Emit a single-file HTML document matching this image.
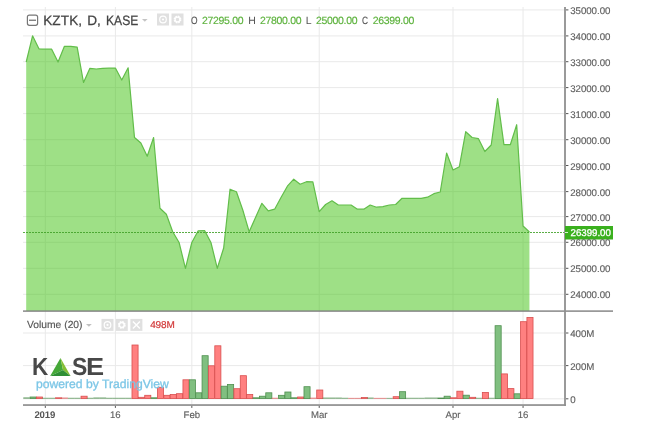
<!DOCTYPE html>
<html><head><meta charset="utf-8"><title>KZTK, D, KASE</title>
<style>
html,body{margin:0;padding:0;background:#fff;}
body{width:660px;height:426px;position:relative;overflow:hidden;font-family:"Liberation Sans",sans-serif;}
#c{position:absolute;left:0;top:0;width:660px;height:426px;overflow:hidden;}
#c span{position:absolute;white-space:nowrap;line-height:1.2;display:block;text-rendering:geometricPrecision;}
</style></head><body><div id="c">
<svg width="660" height="426" viewBox="0 0 660 426" style="position:absolute;left:0;top:0">
<rect x="23" y="9.40" width="542" height="1" fill="#e9e9e9"/>
<rect x="23" y="35.40" width="542" height="1" fill="#e9e9e9"/>
<rect x="23" y="61.20" width="542" height="1" fill="#e9e9e9"/>
<rect x="23" y="87.10" width="542" height="1" fill="#e9e9e9"/>
<rect x="23" y="113.10" width="542" height="1" fill="#e9e9e9"/>
<rect x="23" y="139.20" width="542" height="1" fill="#e9e9e9"/>
<rect x="23" y="165.00" width="542" height="1" fill="#e9e9e9"/>
<rect x="23" y="191.10" width="542" height="1" fill="#e9e9e9"/>
<rect x="23" y="216.10" width="542" height="1" fill="#e9e9e9"/>
<rect x="23" y="241.80" width="542" height="1" fill="#e9e9e9"/>
<rect x="23" y="267.80" width="542" height="1" fill="#e9e9e9"/>
<rect x="23" y="293.80" width="542" height="1" fill="#e9e9e9"/>
<rect x="23" y="332.50" width="542" height="1" fill="#e9e9e9"/>
<rect x="23" y="365.10" width="542" height="1" fill="#e9e9e9"/>
<rect x="23" y="398.30" width="542" height="1" fill="#e9e9e9"/>
<rect x="44.81" y="7" width="1" height="397" fill="#e9e9e9"/>
<rect x="114.88" y="7" width="1" height="397" fill="#e9e9e9"/>
<rect x="191.32" y="7" width="1" height="397" fill="#e9e9e9"/>
<rect x="318.72" y="7" width="1" height="397" fill="#e9e9e9"/>
<rect x="452.49" y="7" width="1" height="397" fill="#e9e9e9"/>
<rect x="522.56" y="7" width="1" height="397" fill="#e9e9e9"/>
<polygon points="26.20,311 26.20,62.00 32.57,35.80 38.94,48.80 45.31,49.20 51.68,49.20 58.05,62.00 64.42,46.30 70.79,46.30 77.16,47.20 83.53,82.50 89.90,68.30 96.27,69.00 102.64,68.30 109.01,68.20 115.38,68.00 121.75,80.00 128.12,67.80 134.49,137.50 140.86,143.00 147.23,156.20 153.60,137.50 159.97,208.30 166.34,214.20 172.71,231.70 179.08,242.50 185.45,268.30 191.82,242.50 198.19,230.80 204.56,230.50 210.93,242.50 217.30,268.30 223.67,248.00 230.04,189.20 236.41,191.70 242.78,210.00 249.15,231.70 255.52,217.50 261.89,203.30 268.26,210.80 274.63,209.20 281.00,197.50 287.37,186.20 293.74,179.20 300.11,184.20 306.48,181.70 312.85,181.90 319.22,211.70 325.59,204.50 331.96,200.80 338.33,205.00 344.70,205.00 351.07,205.00 357.44,209.20 363.81,209.20 370.18,205.00 376.55,207.20 382.92,206.70 389.29,205.00 395.66,204.50 402.03,198.30 408.40,198.30 414.77,198.30 421.14,198.30 427.51,197.20 433.88,193.70 440.25,192.00 446.62,153.00 452.99,170.00 459.36,166.70 465.73,131.70 472.10,137.50 478.47,138.70 484.84,151.50 491.21,145.00 497.58,98.70 503.95,144.70 510.32,144.70 516.69,124.70 523.06,226.00 529.43,232.00 529.43,311" fill="rgba(61,193,13,0.5)"/>
<polyline points="26.20,62.00 32.57,35.80 38.94,48.80 45.31,49.20 51.68,49.20 58.05,62.00 64.42,46.30 70.79,46.30 77.16,47.20 83.53,82.50 89.90,68.30 96.27,69.00 102.64,68.30 109.01,68.20 115.38,68.00 121.75,80.00 128.12,67.80 134.49,137.50 140.86,143.00 147.23,156.20 153.60,137.50 159.97,208.30 166.34,214.20 172.71,231.70 179.08,242.50 185.45,268.30 191.82,242.50 198.19,230.80 204.56,230.50 210.93,242.50 217.30,268.30 223.67,248.00 230.04,189.20 236.41,191.70 242.78,210.00 249.15,231.70 255.52,217.50 261.89,203.30 268.26,210.80 274.63,209.20 281.00,197.50 287.37,186.20 293.74,179.20 300.11,184.20 306.48,181.70 312.85,181.90 319.22,211.70 325.59,204.50 331.96,200.80 338.33,205.00 344.70,205.00 351.07,205.00 357.44,209.20 363.81,209.20 370.18,205.00 376.55,207.20 382.92,206.70 389.29,205.00 395.66,204.50 402.03,198.30 408.40,198.30 414.77,198.30 421.14,198.30 427.51,197.20 433.88,193.70 440.25,192.00 446.62,153.00 452.99,170.00 459.36,166.70 465.73,131.70 472.10,137.50 478.47,138.70 484.84,151.50 491.21,145.00 497.58,98.70 503.95,144.70 510.32,144.70 516.69,124.70 523.06,226.00 529.43,232.00" fill="none" stroke="#62bd4a" stroke-width="1.2" stroke-linejoin="round"/>
<line x1="23" y1="232.5" x2="565" y2="232.5" stroke="#3fa026" stroke-width="1" stroke-dasharray="2 1" opacity="0.85"/>
<rect x="23.30" y="397.40" width="6.4" height="1.30" fill="#4f8f4f" opacity="0.8"/>
<rect x="30.07" y="397.00" width="6.1" height="1.60" fill="#80bf80" stroke="#4f8f4f" stroke-width="0.8"/>
<rect x="36.44" y="397.00" width="6.1" height="1.60" fill="#ff8080" stroke="#d94f4f" stroke-width="0.8"/>
<rect x="42.41" y="397.80" width="6.4" height="0.90" fill="#4f8f4f" opacity="0.8"/>
<rect x="48.78" y="397.80" width="6.4" height="0.90" fill="#4f8f4f" opacity="0.8"/>
<rect x="55.55" y="397.80" width="6.1" height="0.80" fill="#ff8080" stroke="#d94f4f" stroke-width="0.8"/>
<rect x="61.52" y="397.60" width="6.4" height="1.10" fill="#d94f4f" opacity="0.8"/>
<rect x="67.89" y="397.80" width="6.4" height="0.90" fill="#4f8f4f" opacity="0.8"/>
<rect x="74.26" y="397.80" width="6.4" height="0.90" fill="#4f8f4f" opacity="0.8"/>
<rect x="81.03" y="396.20" width="6.1" height="2.40" fill="#ff8080" stroke="#d94f4f" stroke-width="0.8"/>
<rect x="87.00" y="397.80" width="6.4" height="0.90" fill="#4f8f4f" opacity="0.8"/>
<rect x="93.37" y="397.50" width="6.4" height="1.20" fill="#4f8f4f" opacity="0.8"/>
<rect x="99.74" y="397.50" width="6.4" height="1.20" fill="#4f8f4f" opacity="0.8"/>
<rect x="106.11" y="397.80" width="6.4" height="0.90" fill="#4f8f4f" opacity="0.8"/>
<rect x="112.48" y="397.80" width="6.4" height="0.90" fill="#4f8f4f" opacity="0.8"/>
<rect x="118.85" y="397.80" width="6.4" height="0.90" fill="#4f8f4f" opacity="0.8"/>
<rect x="125.22" y="397.80" width="6.4" height="0.90" fill="#4f8f4f" opacity="0.8"/>
<rect x="131.99" y="345.00" width="6.1" height="53.60" fill="#ff8080" stroke="#d94f4f" stroke-width="0.8"/>
<rect x="138.36" y="397.30" width="6.1" height="1.30" fill="#ff8080" stroke="#d94f4f" stroke-width="0.8"/>
<rect x="144.73" y="395.30" width="6.1" height="3.30" fill="#ff8080" stroke="#d94f4f" stroke-width="0.8"/>
<rect x="151.10" y="397.80" width="6.1" height="0.80" fill="#80bf80" stroke="#4f8f4f" stroke-width="0.8"/>
<rect x="157.47" y="387.30" width="6.1" height="11.30" fill="#ff8080" stroke="#d94f4f" stroke-width="0.8"/>
<rect x="163.84" y="395.30" width="6.1" height="3.30" fill="#ff8080" stroke="#d94f4f" stroke-width="0.8"/>
<rect x="170.21" y="394.50" width="6.1" height="4.10" fill="#ff8080" stroke="#d94f4f" stroke-width="0.8"/>
<rect x="176.58" y="393.70" width="6.1" height="4.90" fill="#ff8080" stroke="#d94f4f" stroke-width="0.8"/>
<rect x="182.95" y="379.80" width="6.1" height="18.80" fill="#ff8080" stroke="#d94f4f" stroke-width="0.8"/>
<rect x="189.32" y="379.80" width="6.1" height="18.80" fill="#80bf80" stroke="#4f8f4f" stroke-width="0.8"/>
<rect x="195.69" y="392.80" width="6.1" height="5.80" fill="#80bf80" stroke="#4f8f4f" stroke-width="0.8"/>
<rect x="202.06" y="355.70" width="6.1" height="42.90" fill="#80bf80" stroke="#4f8f4f" stroke-width="0.8"/>
<rect x="208.43" y="365.80" width="6.1" height="32.80" fill="#ff8080" stroke="#d94f4f" stroke-width="0.8"/>
<rect x="214.80" y="345.80" width="6.1" height="52.80" fill="#ff8080" stroke="#d94f4f" stroke-width="0.8"/>
<rect x="221.17" y="386.20" width="6.1" height="12.40" fill="#80bf80" stroke="#4f8f4f" stroke-width="0.8"/>
<rect x="227.54" y="384.50" width="6.1" height="14.10" fill="#80bf80" stroke="#4f8f4f" stroke-width="0.8"/>
<rect x="233.91" y="388.70" width="6.1" height="9.90" fill="#ff8080" stroke="#d94f4f" stroke-width="0.8"/>
<rect x="240.28" y="375.70" width="6.1" height="22.90" fill="#ff8080" stroke="#d94f4f" stroke-width="0.8"/>
<rect x="246.65" y="394.50" width="6.1" height="4.10" fill="#ff8080" stroke="#d94f4f" stroke-width="0.8"/>
<rect x="253.02" y="397.80" width="6.1" height="0.80" fill="#80bf80" stroke="#4f8f4f" stroke-width="0.8"/>
<rect x="259.39" y="396.20" width="6.1" height="2.40" fill="#80bf80" stroke="#4f8f4f" stroke-width="0.8"/>
<rect x="265.76" y="392.80" width="6.1" height="5.80" fill="#80bf80" stroke="#4f8f4f" stroke-width="0.8"/>
<rect x="271.73" y="397.80" width="6.4" height="0.90" fill="#d94f4f" opacity="0.8"/>
<rect x="278.50" y="395.30" width="6.1" height="3.30" fill="#80bf80" stroke="#4f8f4f" stroke-width="0.8"/>
<rect x="284.87" y="392.00" width="6.1" height="6.60" fill="#80bf80" stroke="#4f8f4f" stroke-width="0.8"/>
<rect x="291.24" y="397.80" width="6.1" height="0.80" fill="#80bf80" stroke="#4f8f4f" stroke-width="0.8"/>
<rect x="297.61" y="397.00" width="6.1" height="1.60" fill="#ff8080" stroke="#d94f4f" stroke-width="0.8"/>
<rect x="303.98" y="386.70" width="6.1" height="11.90" fill="#80bf80" stroke="#4f8f4f" stroke-width="0.8"/>
<rect x="309.95" y="397.70" width="6.4" height="1.00" fill="#d94f4f" opacity="0.8"/>
<rect x="316.72" y="390.00" width="6.1" height="8.60" fill="#ff8080" stroke="#d94f4f" stroke-width="0.8"/>
<rect x="322.69" y="397.60" width="6.4" height="1.10" fill="#4f8f4f" opacity="0.8"/>
<rect x="329.06" y="397.60" width="6.4" height="1.10" fill="#4f8f4f" opacity="0.8"/>
<rect x="335.43" y="397.60" width="6.4" height="1.10" fill="#4f8f4f" opacity="0.8"/>
<rect x="341.80" y="397.80" width="6.4" height="0.90" fill="#4f8f4f" opacity="0.8"/>
<rect x="348.17" y="397.90" width="6.4" height="0.80" fill="#d94f4f" opacity="0.8"/>
<rect x="354.54" y="397.90" width="6.4" height="0.80" fill="#d94f4f" opacity="0.8"/>
<rect x="361.31" y="397.50" width="6.1" height="1.10" fill="#ff8080" stroke="#d94f4f" stroke-width="0.8"/>
<rect x="367.28" y="397.60" width="6.4" height="1.10" fill="#4f8f4f" opacity="0.8"/>
<rect x="373.65" y="397.90" width="6.4" height="0.80" fill="#d94f4f" opacity="0.8"/>
<rect x="380.02" y="397.90" width="6.4" height="0.80" fill="#d94f4f" opacity="0.8"/>
<rect x="386.39" y="397.90" width="6.4" height="0.80" fill="#4f8f4f" opacity="0.8"/>
<rect x="393.16" y="396.70" width="6.1" height="1.90" fill="#ff8080" stroke="#d94f4f" stroke-width="0.8"/>
<rect x="399.53" y="391.70" width="6.1" height="6.90" fill="#80bf80" stroke="#4f8f4f" stroke-width="0.8"/>
<rect x="405.50" y="397.80" width="6.4" height="0.90" fill="#4f8f4f" opacity="0.8"/>
<rect x="411.87" y="397.80" width="6.4" height="0.90" fill="#4f8f4f" opacity="0.8"/>
<rect x="418.24" y="397.80" width="6.4" height="0.90" fill="#4f8f4f" opacity="0.8"/>
<rect x="424.61" y="397.60" width="6.4" height="1.10" fill="#4f8f4f" opacity="0.8"/>
<rect x="430.98" y="397.60" width="6.4" height="1.10" fill="#4f8f4f" opacity="0.8"/>
<rect x="437.75" y="398.00" width="6.1" height="0.60" fill="#80bf80" stroke="#4f8f4f" stroke-width="0.8"/>
<rect x="444.12" y="396.20" width="6.1" height="2.40" fill="#80bf80" stroke="#4f8f4f" stroke-width="0.8"/>
<rect x="450.49" y="397.80" width="6.1" height="0.80" fill="#ff8080" stroke="#d94f4f" stroke-width="0.8"/>
<rect x="456.86" y="391.20" width="6.1" height="7.40" fill="#ff8080" stroke="#d94f4f" stroke-width="0.8"/>
<rect x="463.23" y="395.20" width="6.1" height="3.40" fill="#80bf80" stroke="#4f8f4f" stroke-width="0.8"/>
<rect x="469.60" y="397.30" width="6.1" height="1.30" fill="#ff8080" stroke="#d94f4f" stroke-width="0.8"/>
<rect x="475.57" y="397.80" width="6.4" height="0.90" fill="#4f8f4f" opacity="0.8"/>
<rect x="482.34" y="392.40" width="6.1" height="6.20" fill="#ff8080" stroke="#d94f4f" stroke-width="0.8"/>
<rect x="488.31" y="397.80" width="6.4" height="0.90" fill="#4f8f4f" opacity="0.8"/>
<rect x="495.08" y="325.70" width="6.1" height="72.90" fill="#80bf80" stroke="#4f8f4f" stroke-width="0.8"/>
<rect x="501.45" y="373.90" width="6.1" height="24.70" fill="#ff8080" stroke="#d94f4f" stroke-width="0.8"/>
<rect x="507.82" y="388.60" width="6.1" height="10.00" fill="#ff8080" stroke="#d94f4f" stroke-width="0.8"/>
<rect x="514.19" y="393.80" width="6.1" height="4.80" fill="#80bf80" stroke="#4f8f4f" stroke-width="0.8"/>
<rect x="520.56" y="321.70" width="6.1" height="76.90" fill="#ff8080" stroke="#d94f4f" stroke-width="0.8"/>
<rect x="526.93" y="317.40" width="6.1" height="81.20" fill="#ff8080" stroke="#d94f4f" stroke-width="0.8"/>
<rect x="23" y="310.4" width="590" height="1.4" fill="#808080"/>
<rect x="564.1" y="7" width="1.8" height="398.9" fill="#909090"/>
<rect x="23" y="404.2" width="543" height="1.7" fill="#909090"/>
<rect x="566" y="9.40" width="2.4" height="1" fill="#555"/>
<rect x="566" y="35.40" width="2.4" height="1" fill="#555"/>
<rect x="566" y="61.20" width="2.4" height="1" fill="#555"/>
<rect x="566" y="87.10" width="2.4" height="1" fill="#555"/>
<rect x="566" y="113.10" width="2.4" height="1" fill="#555"/>
<rect x="566" y="139.20" width="2.4" height="1" fill="#555"/>
<rect x="566" y="165.00" width="2.4" height="1" fill="#555"/>
<rect x="566" y="191.10" width="2.4" height="1" fill="#555"/>
<rect x="566" y="216.10" width="2.4" height="1" fill="#555"/>
<rect x="566" y="241.80" width="2.4" height="1" fill="#555"/>
<rect x="566" y="267.80" width="2.4" height="1" fill="#555"/>
<rect x="566" y="293.80" width="2.4" height="1" fill="#555"/>
<rect x="566" y="332.50" width="2.4" height="1" fill="#555"/>
<rect x="566" y="365.10" width="2.4" height="1" fill="#555"/>
<rect x="566" y="398.30" width="2.4" height="1" fill="#555"/>
<rect x="44.81" y="405.9" width="1" height="2" fill="#555"/>
<rect x="114.88" y="405.9" width="1" height="2" fill="#555"/>
<rect x="191.32" y="405.9" width="1" height="2" fill="#555"/>
<rect x="318.72" y="405.9" width="1" height="2" fill="#555"/>
<rect x="452.49" y="405.9" width="1" height="2" fill="#555"/>
<rect x="522.56" y="405.9" width="1" height="2" fill="#555"/>
<rect x="565" y="226" width="48" height="13.5" fill="#3ab01e"/>
<rect x="565" y="232" width="3" height="1" fill="#d8f5d0"/>
<rect x="157" y="13.5" width="12" height="12" fill="#e0e0e0"/><circle cx="163" cy="19.5" r="3.3" fill="none" stroke="#fff" stroke-width="1.2"/><circle cx="163" cy="19.5" r="1.1" fill="#fff"/>
<rect x="171.5" y="13.5" width="12" height="12" fill="#e0e0e0"/><circle cx="177.5" cy="19.5" r="3" fill="none" stroke="#fff" stroke-width="1.8" stroke-dasharray="1.6 0.75"/><circle cx="177.5" cy="19.5" r="2.4" fill="none" stroke="#fff" stroke-width="1.3"/>
<rect x="101.5" y="318.9" width="12" height="12" fill="#e0e0e0"/><circle cx="107.5" cy="324.9" r="3.3" fill="none" stroke="#fff" stroke-width="1.2"/><circle cx="107.5" cy="324.9" r="1.1" fill="#fff"/>
<rect x="115.8" y="318.9" width="12" height="12" fill="#e0e0e0"/><circle cx="121.8" cy="324.9" r="3" fill="none" stroke="#fff" stroke-width="1.8" stroke-dasharray="1.6 0.75"/><circle cx="121.8" cy="324.9" r="2.4" fill="none" stroke="#fff" stroke-width="1.3"/>
<rect x="130.4" y="318.9" width="12" height="12" fill="#e0e0e0"/><path d="M132.9 321.4L139.9 328.4M139.9 321.4L132.9 328.4" stroke="#fff" stroke-width="1.4" fill="none"/>
<polygon points="142,19 147.6,19 144.8,21.8" fill="#c4c4c4"/>
<polygon points="86.0,323.9 91.8,323.9 88.9,326.8" fill="#c0c0c0"/>
<rect x="27.4" y="15.1" width="10.2" height="10.2" rx="2" fill="#fff" stroke="#777" stroke-width="1.2"/><rect x="29" y="19.6" width="7" height="1.3" fill="#777"/>
<polygon points="60.5,358.1 50.2,376.1 63,370" fill="#45a838"/><polygon points="60.5,358.1 63,370 70.6,376.1" fill="#86bf35"/><polygon points="50.2,376.1 63,370 70.6,376.1" fill="#2f8f35"/>
</svg>
<span style="left:570.2px;top:6.0px;font-size:9.7px;color:#606060;letter-spacing:-0.03px;-webkit-text-stroke:0.15px #606060;">35000.00</span>
<span style="left:570.2px;top:32.0px;font-size:9.7px;color:#606060;letter-spacing:-0.03px;-webkit-text-stroke:0.15px #606060;">34000.00</span>
<span style="left:570.2px;top:57.800000000000004px;font-size:9.7px;color:#606060;letter-spacing:-0.03px;-webkit-text-stroke:0.15px #606060;">33000.00</span>
<span style="left:570.2px;top:83.69999999999999px;font-size:9.7px;color:#606060;letter-spacing:-0.03px;-webkit-text-stroke:0.15px #606060;">32000.00</span>
<span style="left:570.2px;top:109.69999999999999px;font-size:9.7px;color:#606060;letter-spacing:-0.03px;-webkit-text-stroke:0.15px #606060;">31000.00</span>
<span style="left:570.2px;top:135.79999999999998px;font-size:9.7px;color:#606060;letter-spacing:-0.03px;-webkit-text-stroke:0.15px #606060;">30000.00</span>
<span style="left:570.2px;top:161.6px;font-size:9.7px;color:#606060;letter-spacing:-0.03px;-webkit-text-stroke:0.15px #606060;">29000.00</span>
<span style="left:570.2px;top:187.7px;font-size:9.7px;color:#606060;letter-spacing:-0.03px;-webkit-text-stroke:0.15px #606060;">28000.00</span>
<span style="left:570.2px;top:212.7px;font-size:9.7px;color:#606060;letter-spacing:-0.03px;-webkit-text-stroke:0.15px #606060;">27000.00</span>
<span style="left:570.2px;top:238.4px;font-size:9.7px;color:#606060;letter-spacing:-0.03px;-webkit-text-stroke:0.15px #606060;">26000.00</span>
<span style="left:570.2px;top:264.40000000000003px;font-size:9.7px;color:#606060;letter-spacing:-0.03px;-webkit-text-stroke:0.15px #606060;">25000.00</span>
<span style="left:570.2px;top:290.40000000000003px;font-size:9.7px;color:#606060;letter-spacing:-0.03px;-webkit-text-stroke:0.15px #606060;">24000.00</span>
<span style="left:570.2px;top:329.1px;font-size:9.7px;color:#606060;letter-spacing:-0.03px;-webkit-text-stroke:0.15px #606060;">400M</span>
<span style="left:570.2px;top:361.6px;font-size:9.7px;color:#606060;letter-spacing:-0.03px;-webkit-text-stroke:0.15px #606060;">200M</span>
<span style="left:570.2px;top:394.90000000000003px;font-size:9.7px;color:#606060;letter-spacing:-0.03px;-webkit-text-stroke:0.15px #606060;">0</span>
<span style="left:570.6px;top:228.0px;font-size:9.7px;color:#fff;letter-spacing:-0.03px;-webkit-text-stroke:0.3px #fff;">26399.00</span>
<span style="left:-5.189999999999998px;width:100px;text-align:center;top:409.5px;font-size:9.6px;color:#555;font-weight:bold;letter-spacing:-0.13px;">2019</span>
<span style="left:65.38000000000001px;width:100px;text-align:center;top:409.5px;font-size:9.6px;color:#606060;letter-spacing:-0.03px;-webkit-text-stroke:0.15px #606060;">16</span>
<span style="left:141.82px;width:100px;text-align:center;top:409.5px;font-size:9.6px;color:#606060;letter-spacing:-0.03px;-webkit-text-stroke:0.15px #606060;">Feb</span>
<span style="left:269.21999999999997px;width:100px;text-align:center;top:409.5px;font-size:9.6px;color:#606060;letter-spacing:-0.03px;-webkit-text-stroke:0.15px #606060;">Mar</span>
<span style="left:402.99px;width:100px;text-align:center;top:409.5px;font-size:9.6px;color:#606060;letter-spacing:-0.03px;-webkit-text-stroke:0.15px #606060;">Apr</span>
<span style="left:473.06000000000006px;width:100px;text-align:center;top:409.5px;font-size:9.6px;color:#606060;letter-spacing:-0.03px;-webkit-text-stroke:0.15px #606060;">16</span>
<span style="left:43.2px;top:13.1px;font-size:13.6px;color:#444;-webkit-text-stroke:0.25px #444;letter-spacing:0.1px;">KZTK,</span>
<span style="left:87.3px;top:13.1px;font-size:13.6px;color:#444;-webkit-text-stroke:0.25px #444;">D,</span>
<span style="left:106.0px;top:13.1px;font-size:13.6px;color:#444;-webkit-text-stroke:0.25px #444;transform:scaleX(0.89);transform-origin:0 0;">KASE</span>
<span style="left:191px;top:14.7px;font-size:10.5px;color:#555;transform:scaleX(0.8);transform-origin:0 0;-webkit-text-stroke:0.15px #555;">O</span>
<span style="left:202px;top:14.7px;font-size:10.5px;color:#5cb23c;letter-spacing:-0.32px;-webkit-text-stroke:0.15px #5cb23c;">27295.00</span>
<span style="left:248.2px;top:14.7px;font-size:10.5px;color:#555;">H</span>
<span style="left:260px;top:14.7px;font-size:10.5px;color:#5cb23c;letter-spacing:-0.32px;-webkit-text-stroke:0.15px #5cb23c;">27800.00</span>
<span style="left:305.8px;top:14.7px;font-size:10.5px;color:#555;">L</span>
<span style="left:316px;top:14.7px;font-size:10.5px;color:#5cb23c;letter-spacing:-0.32px;-webkit-text-stroke:0.15px #5cb23c;">25000.00</span>
<span style="left:362.3px;top:14.7px;font-size:10.5px;color:#555;transform:scaleX(0.8);transform-origin:0 0;-webkit-text-stroke:0.15px #555;">C</span>
<span style="left:372.7px;top:14.7px;font-size:10.5px;color:#5cb23c;letter-spacing:-0.32px;-webkit-text-stroke:0.15px #5cb23c;">26399.00</span>
<span style="left:27.0px;top:320.0px;font-size:10.3px;color:#555;-webkit-text-stroke:0.15px #555;">Volume (20)</span>
<span style="left:150.2px;top:319.6px;font-size:10px;color:#d23838;-webkit-text-stroke:0.2px #d23838;letter-spacing:-0.15px;">498M</span>
<span style="left:32.4px;top:352.7px;font-size:24.7px;color:#484848;font-weight:bold;transform:scaleX(0.91);transform-origin:0 0;">K</span>
<span style="left:71.9px;top:352.7px;font-size:24.7px;color:#484848;font-weight:bold;transform:scaleX(0.93);transform-origin:0 0;">S</span>
<span style="left:85.6px;top:352.7px;font-size:24.7px;color:#484848;font-weight:bold;transform:scaleX(1.1);transform-origin:0 0;">E</span>
<span style="left:36.0px;top:376.8px;font-size:12.15px;color:#7cc6e6;-webkit-text-stroke:0.3px #7cc6e6;">powered by TradingView</span>
</div></body></html>
